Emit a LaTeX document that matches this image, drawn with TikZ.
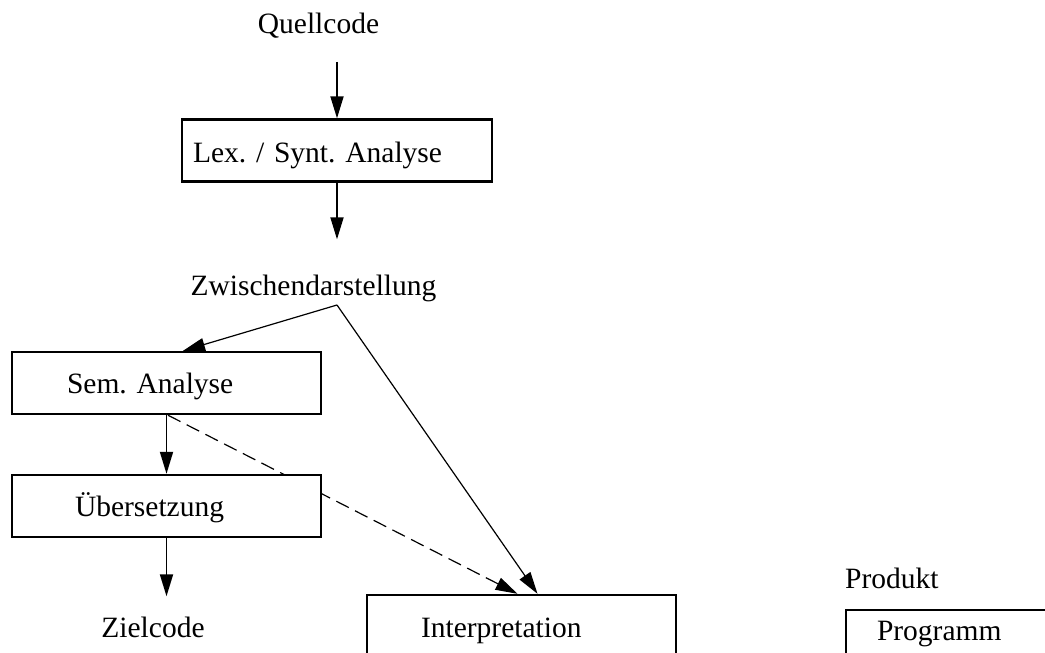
\documentclass[tikz,border=0pt]{standalone}
\usepackage{fontspec}
\setmainfont{Liberation Serif}
\usetikzlibrary{arrows.meta}
\frenchspacing
\tikzset{
  lbl/.style={font=\fontsize{29.5}{35}\selectfont, inner sep=0pt},
  box/.style={lbl, draw, line width=2.4pt, fill=white, minimum height=62pt,
              text height=20pt, text depth=0pt, align=left, inner ysep=0pt},
  arr/.style={line width=1.8pt, -{Triangle[length=22pt,width=13pt]}},
  darr/.style={line width=1.2pt, -{Triangle[length=22pt,width=13pt]}},
  dasharr/.style={line width=1.2pt, dash pattern=on 14pt off 7pt, -{Triangle[length=22pt,width=13pt]}}
}
\begin{document}
\begin{tikzpicture}[x=1pt,y=-1pt]
\clip (0,0) rectangle (1045,653);
\useasboundingbox (0,0) rectangle (1045,653);

\node[lbl, anchor=base] (Q) at (318.5,34) {Quellcode};
\node[box, text height=23pt, minimum width=310pt, inner xsep=11pt, text width=288pt] (Lex) at (337,150.5) {Lex. / Synt. Analyse};
\node[lbl, anchor=base] (Zw) at (313.5,295) {Zwischendarstellung};
\coordinate (J) at (337,305);

\node[box, minimum width=309pt, inner xsep=55pt, text width=199pt] (Sem) at (166.5,383) {Sem. Analyse};
\node[box, minimum width=309pt, minimum height=64pt, inner xsep=54pt, text width=201pt] (Int) at (521.5,627) {Interpretation};

\draw[dasharr] ([xshift=1.5pt]Sem.south) -- ([xshift=-4pt]Int.north);

\node[box, minimum width=309pt, inner xsep=63pt, text width=183pt] (Ueb) at (166.5,506) {Übersetzung};
\node[lbl, anchor=base] (Ziel) at (153,637) {Zielcode};

\node[lbl, anchor=base west] (Prod) at (845,588) {Produkt};
\node[box, minimum height=64pt, text depth=24pt, minimum width=260pt, inner xsep=31pt, text width=198pt] (Prog) at (976,642) {Programm};

\draw[arr] ([yshift=-23pt]Q.south -| Lex.north) -- (Lex.north);
\draw[arr] (Lex.south) -- ([yshift=35pt]Zw.north -| Lex.south);
\draw[darr] (J) -- ([xshift=16.5pt]Sem.north);
\draw[darr] (J) -- ([xshift=16pt]Int.north);
\draw[arr] (Sem.south) -- (Ueb.north);
\draw[arr] (Ueb.south) -- ([yshift=20pt]Ziel.north -| Ueb.south);
\end{tikzpicture}
\end{document}
